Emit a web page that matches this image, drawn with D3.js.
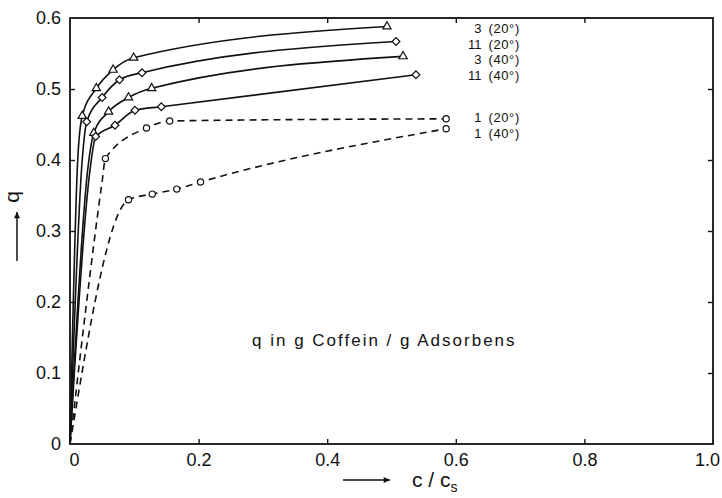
<!DOCTYPE html>
<html><head><meta charset="utf-8">
<script src="https://cdn.jsdelivr.net/npm/d3@7"></script>
<style>body{margin:0;background:#fff}</style>
</head><body><svg id="c" width="722" height="498"></svg>
<script>
// ---- data ----
const xTickValues = [0, 0.2, 0.4, 0.6, 0.8, 1.0];
const xTickLabels = ["0", "0.2", "0.4", "0.6", "0.8", "1.0"];
const yTickValues = [0, 0.1, 0.2, 0.3, 0.4, 0.5, 0.6];
const yTickLabels = ["0", "0.1", "0.2", "0.3", "0.4", "0.5", "0.6"];

const seriesNumbers = ["3", "11", "3", "11", "1", "1"];
const seriesTemps   = ["(20°)", "(20°)", "(40°)", "(40°)", "(20°)", "(40°)"];
const seriesMarkers = ["triangle", "diamond", "triangle", "diamond", "circle", "circle"];
const seriesDashed  = [false, false, false, false, true, true];

// measured points (c/cs, q)
const pts3_20  = [[0.019,0.462],[0.041,0.501],[0.067,0.527],[0.099,0.544],[0.493,0.588]];
const pts11_20 = [[0.026,0.454],[0.050,0.488],[0.077,0.513],[0.112,0.523],[0.507,0.567]];
const pts3_40  = [[0.037,0.438],[0.060,0.468],[0.091,0.488],[0.127,0.501],[0.518,0.546]];
const pts11_40 = [[0.040,0.433],[0.070,0.449],[0.101,0.470],[0.142,0.475],[0.538,0.520]];
const pts1_20  = [[0.055,0.402],[0.119,0.445],[0.155,0.455],[0.585,0.458]];
const pts1_40  = [[0.091,0.344],[0.128,0.352],[0.166,0.359],[0.203,0.369],[0.585,0.444]];

// unmarked parts of the drawn curves near the origin
const rise3_20  = [[0,0],[0.012,0.40]];
const rise11_20 = [[0,0],[0.019,0.40]];
const rise3_40  = [[0,0],[0.028,0.39]];
const rise11_40 = [[0,0],[0.031,0.385]];
const rise1_20  = [[0,0],[0.050,0.370]];
const rise1_40  = [[0,0]];

const labelQ = [0.585, 0.563, 0.541, 0.519, 0.460, 0.438];
const labelAtX = 0.64;

const allPts  = [pts3_20, pts11_20, pts3_40, pts11_40, pts1_20, pts1_40];
const allRise = [rise3_20, rise11_20, rise3_40, rise11_40, rise1_20, rise1_40];

// ---- drawing ----
const svg = d3.select("#c");
const FONT = "Liberation Sans, Arial, sans-serif";
const x = d3.scaleLinear().domain([0, 1]).range([70, 713]);
const y = d3.scaleLinear().domain([0, 0.6]).range([444, 18]);

// frame
svg.append("rect").attr("x", x(0)).attr("y", y(0.6))
  .attr("width", x(1) - x(0)).attr("height", y(0) - y(0.6))
  .attr("fill", "none").attr("stroke", "#111").attr("stroke-width", 1.8);

function styleAxis(g) {
  g.select(".domain").remove();
  g.selectAll(".tick line").attr("stroke", "#111").attr("stroke-width", 1.4);
  g.selectAll(".tick text").attr("font-family", FONT).attr("font-size", 18).attr("fill", "#111");
}
const ax = svg.append("g").attr("transform", `translate(0,${y(0)})`)
  .call(d3.axisBottom(x).tickValues(xTickValues).tickFormat((d, i) => xTickLabels[i])
    .tickSize(-5).tickPadding(9));
styleAxis(ax);
ax.selectAll(".tick").filter(d => d === 0 || d === 1).select("line").remove();
ax.selectAll(".tick").filter(d => d === 1).select("text").attr("dx", -6);
ax.selectAll(".tick").filter(d => d === 0).select("text").attr("dx", 4);
const ay = svg.append("g").attr("transform", `translate(${x(0)},0)`)
  .call(d3.axisLeft(y).tickValues(yTickValues).tickFormat((d, i) => yTickLabels[i])
    .tickSize(-5).tickPadding(9));
styleAxis(ay);
ay.selectAll(".tick").filter(d => d === 0 || d === 0.6).select("line").remove();
const at = svg.append("g").attr("transform", `translate(0,${y(0.6)})`)
  .call(d3.axisTop(x).tickValues(xTickValues.slice(1, -1)).tickFormat("").tickSize(-5));
styleAxis(at);
const ar = svg.append("g").attr("transform", `translate(${x(1)},0)`)
  .call(d3.axisRight(y).tickValues(yTickValues.slice(1, -1)).tickFormat("").tickSize(-5));
styleAxis(ar);

// curves
const line = d3.line().x(d => x(d[0])).y(d => y(d[1])).curve(d3.curveMonotoneX);
allPts.forEach((pts, i) => {
  svg.append("path").datum(allRise[i].concat(pts))
    .attr("d", line).attr("fill", "none").attr("stroke", "#111")
    .attr("stroke-width", 1.6)
    .attr("stroke-dasharray", seriesDashed[i] ? "7,5" : null);
});

// markers
const symTri = d3.symbol().type(d3.symbolTriangle).size(30);
const symSq = d3.symbol().type(d3.symbolSquare).size(30);
allPts.forEach((pts, i) => {
  const m = seriesMarkers[i];
  const g = svg.append("g");
  pts.forEach(p => {
    if (m === "circle") {
      g.append("circle").attr("cx", x(p[0])).attr("cy", y(p[1])).attr("r", 3.1)
        .attr("fill", "#fff").attr("stroke", "#111").attr("stroke-width", 1.2);
    } else if (m === "triangle") {
      g.append("path").attr("d", symTri())
        .attr("transform", `translate(${x(p[0])},${y(p[1])})`)
        .attr("fill", "#fff").attr("stroke", "#111").attr("stroke-width", 1.2);
    } else {
      g.append("path").attr("d", symSq())
        .attr("transform", `translate(${x(p[0])},${y(p[1])}) rotate(45)`)
        .attr("fill", "#fff").attr("stroke", "#111").attr("stroke-width", 1.2);
    }
  });
});

// series labels
seriesNumbers.forEach((n, i) => {
  const ly = y(labelQ[i]);
  svg.append("text").attr("x", x(labelAtX)).attr("y", ly).attr("dy", "0.35em")
    .attr("text-anchor", "end").attr("font-family", FONT).attr("font-size", 13)
    .attr("fill", "#111").text(n);
  svg.append("text").attr("x", x(labelAtX) + 7).attr("y", ly).attr("dy", "0.35em")
    .attr("font-family", FONT).attr("font-size", 13).attr("letter-spacing", 0.6)
    .attr("fill", "#111").text(seriesTemps[i]);
});

// annotation
svg.append("text").attr("x", 252).attr("y", 346)
  .attr("font-family", FONT).attr("font-size", 17).attr("letter-spacing", 2)
  .attr("fill", "#111").text("q in g Coffein / g Adsorbens");

// axis titles with arrows
function arrow(x1, y1, x2, y2) {
  svg.append("line").attr("x1", x1).attr("y1", y1).attr("x2", x2).attr("y2", y2)
    .attr("stroke", "#111").attr("stroke-width", 1.5);
  const a = Math.atan2(y2 - y1, x2 - x1), L = 7, w = 0.45;
  const p = [[x2, y2],
    [x2 - L * Math.cos(a - w), y2 - L * Math.sin(a - w)],
    [x2 - L * Math.cos(a + w), y2 - L * Math.sin(a + w)]];
  svg.append("path").attr("d", "M" + p.map(d => d.join(",")).join("L") + "Z").attr("fill", "#111");
}
arrow(343, 480, 390, 480);
const xt = svg.append("text").attr("x", 412).attr("y", 487)
  .attr("font-family", FONT).attr("font-size", 21).attr("fill", "#111");
xt.append("tspan").text("c / c");
xt.append("tspan").attr("font-size", 14).attr("dy", 5).text("s");

arrow(17, 261, 17, 212);
svg.append("text").attr("transform", "translate(19,197) rotate(-90)")
  .attr("text-anchor", "middle").attr("font-family", FONT).attr("font-size", 21)
  .attr("fill", "#111").text("q");
</script></body></html>
